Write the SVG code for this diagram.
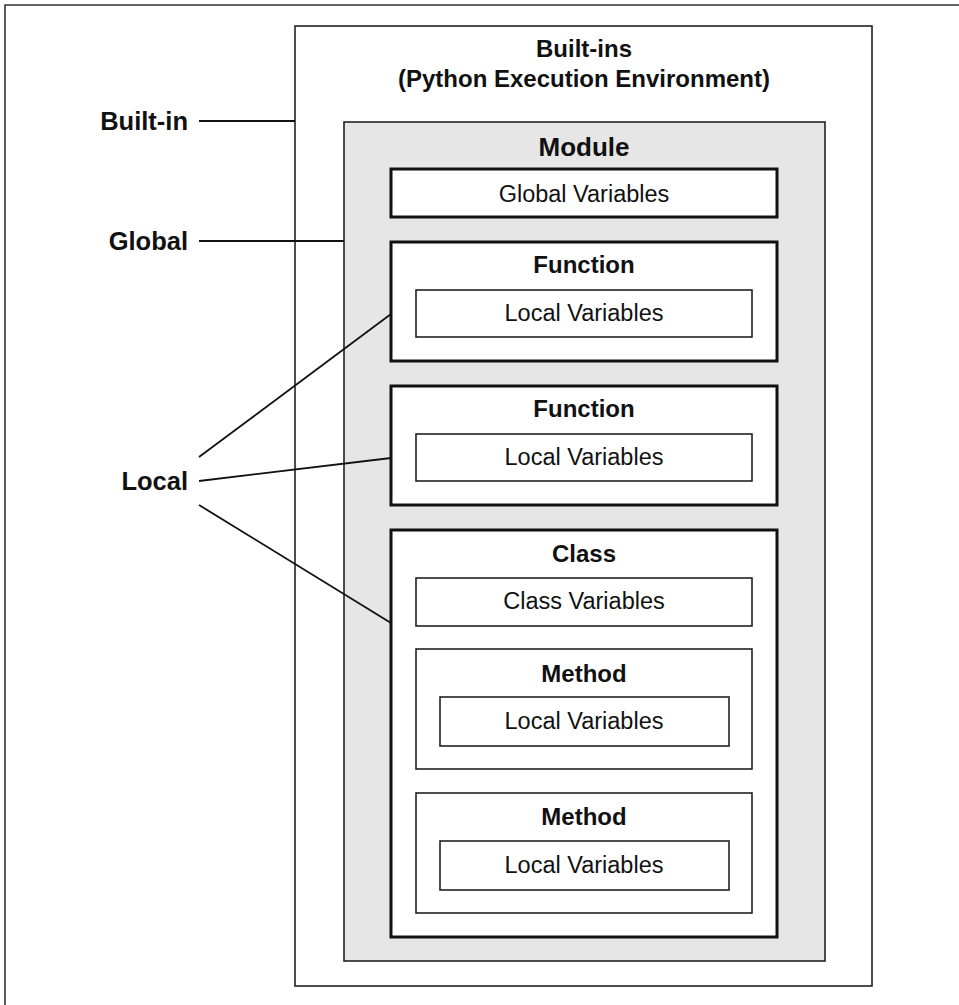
<svg xmlns="http://www.w3.org/2000/svg" width="959" height="1005" viewBox="0 0 959 1005">
<style>
text{font-family:"Liberation Sans",Arial,sans-serif;fill:#111;text-anchor:middle}
.b{font-weight:bold;font-size:24px}
.r{font-size:23.5px}
.lbl{font-weight:bold;font-size:25.5px;text-anchor:end}
.thin{fill:#fff;stroke:#222;stroke-width:1.6}
.thick{fill:#fff;stroke:#111;stroke-width:3}
.conn{stroke:#111;stroke-width:1.8;fill:none}
</style>
<rect width="959" height="1005" fill="#fff"/>
<path d="M5,1005 V5 H959" fill="none" stroke="#333" stroke-width="1.6"/>
<g id="builtins">
<rect x="295" y="26" width="577" height="960" class="thin"/>
<text class="b" x="584" y="57">Built-ins</text>
<text class="b" x="584" y="87">(Python Execution Environment)</text>
</g>
<g id="module">
<rect x="344" y="122" width="481" height="839" fill="#e6e6e6" stroke="#222" stroke-width="1.6"/>
<text x="584" y="156" style="font-weight:bold;font-size:26px">Module</text>
</g>
<g id="global-vars">
<rect x="391" y="169" width="386" height="48" class="thick"/>
<text class="r" x="584" y="202">Global Variables</text>
</g>
<g id="function1">
<rect x="391" y="242" width="386" height="119" class="thick"/>
<text class="b" x="584" y="273">Function</text>
<rect x="416" y="290" width="336" height="47" class="thin"/>
<text class="r" x="584" y="321">Local Variables</text>
</g>
<g id="function2">
<rect x="391" y="386" width="386" height="119" class="thick"/>
<text class="b" x="584" y="417">Function</text>
<rect x="416" y="434" width="336" height="47" class="thin"/>
<text class="r" x="584" y="465">Local Variables</text>
</g>
<g id="class">
<rect x="391" y="530" width="386" height="407" class="thick"/>
<text class="b" x="584" y="562">Class</text>
<rect x="416" y="578" width="336" height="48" class="thin"/>
<text class="r" x="584" y="609">Class Variables</text>
</g>
<g id="method1">
<rect x="416" y="649" width="336" height="120" class="thin"/>
<text class="b" x="584" y="682">Method</text>
<rect x="440" y="697" width="289" height="49" class="thin"/>
<text class="r" x="584" y="729">Local Variables</text>
</g>
<g id="method2">
<rect x="416" y="793" width="336" height="120" class="thin"/>
<text class="b" x="584" y="825">Method</text>
<rect x="440" y="841" width="289" height="49" class="thin"/>
<text class="r" x="584" y="873">Local Variables</text>
</g>
<g id="labels">
<text class="lbl" x="188" y="130">Built-in</text>
<text class="lbl" x="188" y="250">Global</text>
<text class="lbl" x="188" y="490">Local</text>
</g>
<g id="connectors">
<line class="conn" x1="199" y1="121" x2="295" y2="121"/>
<line class="conn" x1="199" y1="241" x2="344" y2="241"/>
<line class="conn" x1="199" y1="457" x2="391" y2="314"/>
<line class="conn" x1="199" y1="481" x2="391" y2="458"/>
<line class="conn" x1="199" y1="505" x2="391" y2="623"/>
</g>
</svg>
